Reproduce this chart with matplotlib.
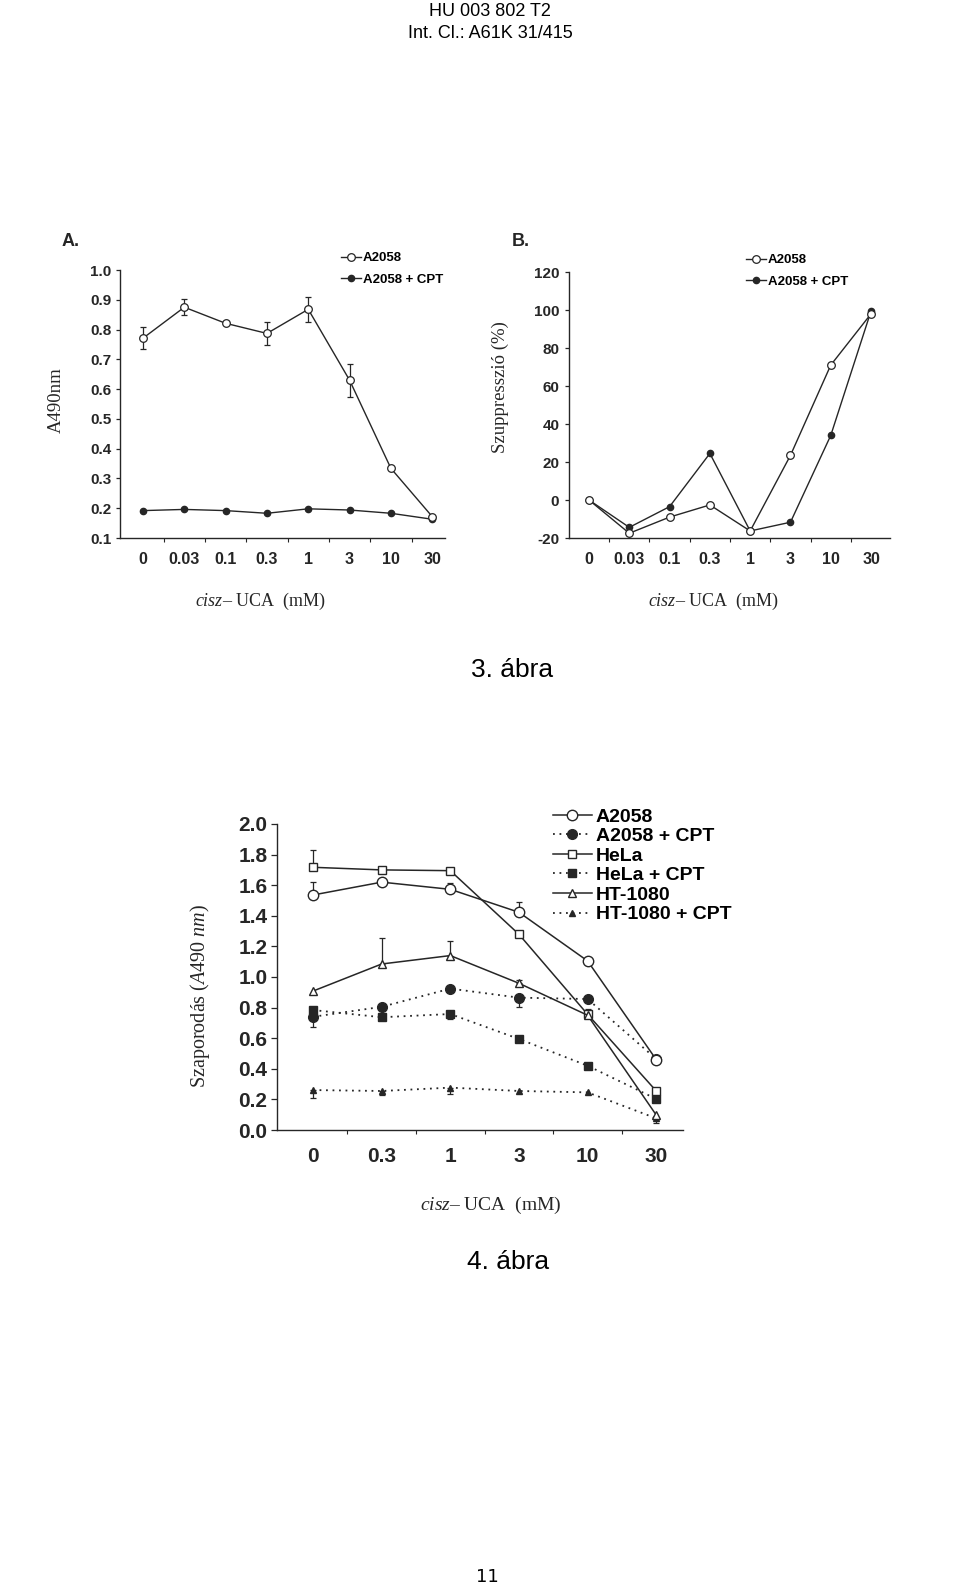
#!/usr/bin/env python3
"""Patent figure page: cis-UCA dose response panels (3. abra A/B) and 4. abra."""

import matplotlib

matplotlib.use("Agg")
import matplotlib.pyplot as plt
import numpy as np

W, H = 960, 1587
INK = "#262626"

# --- 3. abra, panel A (A490nm) ---
a_labels = ["0", "0.03", "0.1", "0.3", "1", "3", "10", "30"]
a_a2058 = [0.771, 0.875, 0.821, 0.787, 0.868, 0.630, 0.334, 0.172]
a_a2058_err = [0.037, 0.027, 0.0, 0.040, 0.042, 0.055, 0.0, 0.0]
a_cpt = [0.192, 0.196, 0.192, 0.183, 0.198, 0.194, 0.183, 0.163]
a_yticks = [0.1, 0.2, 0.3, 0.4, 0.5, 0.6, 0.7, 0.8, 0.9, 1.0]

# --- 3. abra, panel B (suppression %) ---
b_labels = ["0", "0.03", "0.1", "0.3", "1", "3", "10", "30"]
b_a2058 = [0, -17.5, -9.0, -2.6, -16.3, 23.5, 71.0, 98.0]
b_cpt = [0, -14.4, -3.5, 24.5, -16.3, -11.7, 34.0, 99.5]
b_yticks = [-20, 0, 20, 40, 60, 80, 100, 120]

# --- 4. abra ---
c_labels = ["0", "0.3", "1", "3", "10", "30"]
c_a2058 = [1.536, 1.620, 1.573, 1.423, 1.105, 0.460]
c_a2058_up = [0.085, 0.0, 0.040, 0.065, 0.0, 0.0]
c_a2058_cpt = [0.740, 0.805, 0.924, 0.865, 0.856, 0.464]
c_a2058_cpt_lo = [0.070, 0.0, 0.0, 0.060, 0.0, 0.0]
c_hela = [1.717, 1.700, 1.695, 1.279, 0.756, 0.255]
c_hela_up = [0.110, 0.0, 0.0, 0.0, 0.035, 0.0]
c_hela_cpt = [0.784, 0.737, 0.758, 0.595, 0.420, 0.203]
c_hela_cpt_lo = [0.0, 0.0, 0.035, 0.0, 0.0, 0.0]
c_ht1080 = [0.908, 1.085, 1.140, 0.959, 0.750, 0.098]
c_ht1080_up = [0.0, 0.170, 0.095, 0.020, 0.0, 0.0]
c_ht1080_cpt = [0.261, 0.255, 0.277, 0.255, 0.246, 0.076]
c_ht1080_cpt_lo = [0.050, 0.025, 0.040, 0.0, 0.0, 0.030]
c_yticks = [0.0, 0.2, 0.4, 0.6, 0.8, 1.0, 1.2, 1.4, 1.6, 1.8, 2.0]

SERIF = "Liberation Serif"
SANS = "Liberation Sans"


def rect(left, top, right, bottom):
    return [left / W, 1 - bottom / H, (right - left) / W, (bottom - top) / H]


def fx(px):
    return px / W


def fy(py):
    return 1 - py / H


def style_axes(ax, labels, yticks, xtick_fs, ytick_fs, xpad, ypad, ylen):
    x = np.arange(len(labels))
    for side in ("top", "right"):
        ax.spines[side].set_visible(False)
    for side in ("left", "bottom"):
        ax.spines[side].set_linewidth(1.0)
        ax.spines[side].set_color(INK)
    ax.set_xticks(x)
    ax.set_xticklabels(labels)
    ax.set_xticks(x[:-1] + 0.5, minor=True)
    ax.set_yticks(yticks)
    ax.tick_params(axis="x", which="major", length=0, pad=xpad, labelsize=xtick_fs, colors=INK)
    ax.tick_params(axis="x", which="minor", length=3, width=0.8, direction="out", colors=INK)
    ax.tick_params(axis="y", which="major", length=ylen, width=0.9, pad=ypad, labelsize=ytick_fs, colors=INK)
    for lab in ax.get_xticklabels() + ax.get_yticklabels():
        lab.set_fontweight("bold")
        lab.set_fontfamily(SANS)


def one_sided(ax, x, y, err, below, ms_cap):
    x = np.asarray(x, dtype=float)
    y = np.asarray(y, dtype=float)
    err = np.asarray(err, dtype=float)
    idx = np.nonzero(err > 0)[0]
    if len(idx) == 0:
        return
    zeros = np.zeros(len(idx))
    yerr = [err[idx], zeros] if below else [zeros, err[idx]]
    ax.errorbar(x[idx], y[idx], yerr=yerr, fmt="none", ecolor=INK, elinewidth=0.9,
                capsize=ms_cap, capthick=0.9, zorder=2)


def small_legend(ax, fig, left, top):
    h, l = ax.get_legend_handles_labels()
    ax.legend(h[::-1], l[::-1], loc="upper left", bbox_to_anchor=(fx(left), fy(top)),
              bbox_transform=fig.transFigure, frameon=False, borderpad=0, borderaxespad=0,
              handlelength=1.5, handletextpad=0.15, labelspacing=0.7, numpoints=1,
              prop={"family": SANS, "weight": "bold", "size": 9.5})


def draw_panel_a(fig):
    ax = fig.add_axes(rect(120, 270, 445, 538))
    x = np.arange(len(a_labels))
    ax.plot(x, a_cpt, color=INK, lw=1.0, marker="o", ms=4.5, mfc=INK, mec=INK,
            label="A2058 + CPT", zorder=3)
    one_sided(ax, x, a_a2058, a_a2058_err, below=True, ms_cap=2.2)
    one_sided(ax, x, a_a2058, a_a2058_err, below=False, ms_cap=2.2)
    ax.plot(x, a_a2058, color=INK, lw=1.0, marker="o", ms=5.5, mfc="white", mec=INK,
            mew=0.9, label="A2058", zorder=4)
    ax.set_xlim(-0.557, 7.31)
    ax.set_ylim(0.1, 1.0)
    style_axes(ax, a_labels, a_yticks, 11.5, 11, 10, 3, 3)
    ax.yaxis.set_major_formatter(matplotlib.ticker.FormatStrFormatter("%.1f"))
    small_legend(ax, fig, 341, 252)
    fig.text(fx(62), fy(242), "A.", fontsize=13, fontweight="bold", family=SANS,
             color=INK, va="center")
    fig.text(fx(56), fy(400), "A490nm", rotation=90, fontsize=13.5, family=SERIF,
             color=INK, ha="center", va="center")
    fig.text(fx(260), fy(601), r"$\mathit{cisz}$– UCA  (mM)", fontsize=13, family=SERIF,
             color=INK, ha="center", va="center")


def draw_panel_b(fig):
    ax = fig.add_axes(rect(569, 272, 890, 538))
    x = np.arange(len(b_labels))
    ax.plot(x, b_cpt, color=INK, lw=1.0, marker="o", ms=4.5, mfc=INK, mec=INK,
            label="A2058 + CPT", zorder=3)
    ax.plot(x, b_a2058, color=INK, lw=1.0, marker="o", ms=5.5, mfc="white", mec=INK,
            mew=0.9, label="A2058", zorder=4)
    ax.set_xlim(-0.496, 7.47)
    ax.set_ylim(-20, 120)
    style_axes(ax, b_labels, b_yticks, 11.5, 11, 10, 4, 3)
    small_legend(ax, fig, 746, 254)
    fig.text(fx(512), fy(242), "B.", fontsize=13, fontweight="bold", family=SANS,
             color=INK, va="center")
    fig.text(fx(500), fy(387), "Szuppresszió (%)", rotation=90, fontsize=13.5, family=SERIF,
             color=INK, ha="center", va="center")
    fig.text(fx(713), fy(601), r"$\mathit{cisz}$– UCA  (mM)", fontsize=13, family=SERIF,
             color=INK, ha="center", va="center")


def draw_fig4(fig):
    ax = fig.add_axes(rect(277, 824, 683, 1130))
    x = np.arange(len(c_labels))
    dot = (0, (1, 2.6))

    one_sided(ax, x, c_a2058, c_a2058_up, below=False, ms_cap=2.5)
    one_sided(ax, x, c_a2058_cpt, c_a2058_cpt_lo, below=True, ms_cap=2.5)
    one_sided(ax, x, c_hela, c_hela_up, below=False, ms_cap=2.5)
    one_sided(ax, x, c_hela_cpt, c_hela_cpt_lo, below=True, ms_cap=2.5)
    one_sided(ax, x, c_ht1080, c_ht1080_up, below=False, ms_cap=2.5)
    one_sided(ax, x, c_ht1080_cpt, c_ht1080_cpt_lo, below=True, ms_cap=2.5)

    ax.plot(x, c_a2058, color=INK, lw=1.1, marker="o", ms=7.5, mfc="white", mec=INK,
            mew=1.0, label="A2058", zorder=4)
    ax.plot(x, c_a2058_cpt, color=INK, lw=1.3, ls=dot, marker="o", ms=7, mfc=INK, mec=INK,
            label="A2058 + CPT", zorder=3)
    ax.plot(x, c_hela, color=INK, lw=1.1, marker="s", ms=6, mfc="white", mec=INK,
            mew=1.0, label="HeLa", zorder=4)
    ax.plot(x, c_hela_cpt, color=INK, lw=1.3, ls=dot, marker="s", ms=5.5, mfc=INK, mec=INK,
            label="HeLa + CPT", zorder=3)
    ax.plot(x, c_ht1080, color=INK, lw=1.1, marker="^", ms=5.5, mfc="white", mec=INK,
            mew=1.0, label="HT-1080", zorder=4)
    ax.plot(x, c_ht1080_cpt, color=INK, lw=1.3, ls=dot, marker="^", ms=4.5, mfc=INK, mec=INK,
            label="HT-1080 + CPT", zorder=3)

    ax.set_xlim(-0.525, 5.39)
    ax.set_ylim(0, 2.0)
    style_axes(ax, c_labels, c_yticks, 15, 15, 12, 3, 4)
    ax.yaxis.set_major_formatter(matplotlib.ticker.FormatStrFormatter("%.1f"))
    ax.legend(loc="upper left", bbox_to_anchor=(fx(553), fy(808)),
              bbox_transform=fig.transFigure, frameon=False, borderpad=0, borderaxespad=0,
              handlelength=2.0, handletextpad=0.2, labelspacing=0.1, numpoints=1,
              prop={"family": SANS, "weight": "bold", "size": 14})
    fig.text(fx(200), fy(996), r"Szaporodás ($\mathit{A490\ nm}$)", rotation=90,
             fontsize=14.5, family=SERIF, color=INK, ha="center", va="center")
    fig.text(fx(491), fy(1205), r"$\mathit{cisz}$– UCA  (mM)", fontsize=14, family=SERIF,
             color=INK, ha="center", va="center")


def main() -> None:
    plt.rcParams["font.family"] = [SANS, "DejaVu Sans"]
    plt.rcParams["axes.unicode_minus"] = False
    plt.rcParams["mathtext.fontset"] = "custom"
    plt.rcParams["mathtext.rm"] = SERIF
    plt.rcParams["mathtext.it"] = SERIF + ":italic"

    fig = plt.figure(figsize=(W / 100, H / 100), dpi=100)
    fig.patch.set_facecolor("white")

    fig.text(fx(490), fy(11), "HU 003 802 T2", fontsize=13, family=SANS, ha="center", va="center")
    fig.text(fx(490), fy(33), "Int. Cl.: A61K 31/415", fontsize=13, family=SANS,
             ha="center", va="center")

    draw_panel_a(fig)
    draw_panel_b(fig)
    fig.text(fx(512), fy(670), "3. ábra", fontsize=19, family=SANS, ha="center", va="center")

    draw_fig4(fig)
    fig.text(fx(508), fy(1262), "4. ábra", fontsize=19, family=SANS, ha="center", va="center")

    fig.text(fx(487), fy(1577), "11", fontsize=13, family="DejaVu Sans", ha="center", va="center")

    fig.savefig("out.png", dpi=100)
    plt.close(fig)


if __name__ == "__main__":
    main()
